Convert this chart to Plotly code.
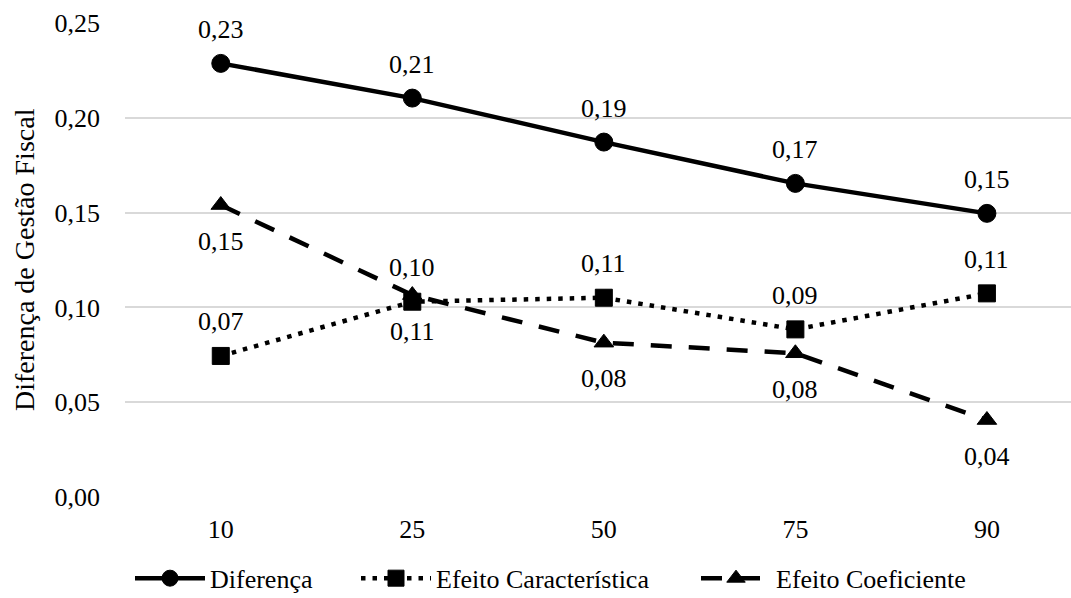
import plotly.graph_objects as go

categories = ["10", "25", "50", "75", "90"]
diferenca = [0.2287, 0.2104, 0.1872, 0.1654, 0.1496]
efeito_caracteristica = [0.0744, 0.1030, 0.1051, 0.0884, 0.1074]
efeito_coeficiente = [0.1540, 0.1065, 0.0814, 0.0758, 0.0406]
y_ticks = [0.0, 0.05, 0.10, 0.15, 0.20, 0.25]

FONT = "Liberation Serif"
FS = 26

fig = go.Figure()

series = [
    ("Diferença", diferenca, "solid", "circle", 18, 1, "legend", 132),
    ("Efeito Característica", efeito_caracteristica, "4.5px,7px", "square", 17, 1, "legend2", 358),
    ("Efeito Coeficiente", efeito_coeficiente, "21px,17px", "triangle-up", 17, -1, "legend3", 698),
]

annotations = []
legends = {}
for name, vals, dash, sym, msize, side, leg, lx in series:
    fig.add_trace(go.Scatter(
        x=categories, y=vals, name=name, mode="lines+markers",
        line=dict(color="black", width=4.5, dash=dash),
        marker=dict(symbol=sym, size=msize, color="black",
                    line=dict(color="black", width=1)),
        legend=leg,
    ))
    legends[leg] = dict(
        orientation="h", xref="container", yref="container",
        x=(lx - 2) / 1071, y=0.033, xanchor="left", yanchor="middle",
        itemwidth=70, font=dict(family=FONT, size=FS, color="#000000"),
        bgcolor="rgba(0,0,0,0)",
    )
    for i, v in enumerate(vals):
        annotations.append(dict(
            x=i, y=v, xref="x", yref="y",
            text=f"{v:.2f}".replace(".", ","),
            showarrow=False, yshift=34 if side > 0 else -36,
            font=dict(family=FONT, size=FS, color="#000000"),
            xanchor="center", yanchor="middle",
        ))

annotations.append(dict(
    text="Diferença de Gestão Fiscal", textangle=-90,
    xref="paper", yref="paper", x=0, y=0.5, xshift=-101,
    xanchor="center", yanchor="middle", showarrow=False,
    font=dict(family=FONT, size=28, color="#000000"),
))

fig.update_layout(
    width=1071, height=598,
    margin=dict(l=125, r=0, t=23, b=101),
    paper_bgcolor="white", plot_bgcolor="white",
    separators=",.",
    font=dict(family=FONT, size=FS, color="#000000"),
    showlegend=True,
    annotations=annotations,
    **legends,
)

fig.update_xaxes(
    type="category", range=[-0.5, 4.439],
    showgrid=False, showline=False, zeroline=False,
    ticks="", ticklabelstandoff=14,
    tickfont=dict(family=FONT, size=FS, color="#000000"),
)
fig.update_yaxes(
    range=[0, 0.25], tickvals=y_ticks, tickformat=".2f",
    showgrid=True, gridcolor="#d9d9d9", gridwidth=1.5,
    zeroline=False, showline=False, ticks="", ticklabelstandoff=24,
    tickfont=dict(family=FONT, size=FS, color="#000000"),
)

fig.write_html("out.html")
